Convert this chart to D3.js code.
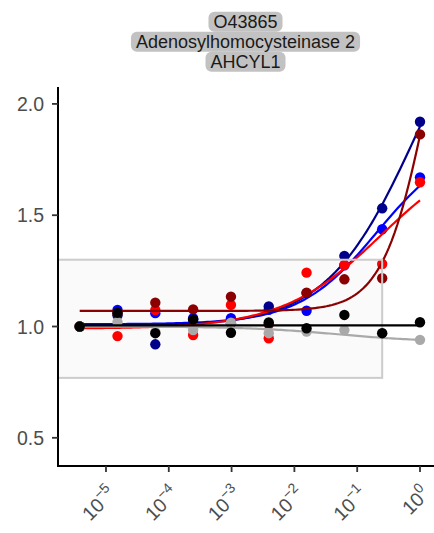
<!DOCTYPE html>
<html><head><meta charset="utf-8">
<script src="https://cdn.jsdelivr.net/npm/d3@7/dist/d3.min.js"></script>
<style>body{margin:0;background:#fff;} text{font-family:"Liberation Sans",Arial,sans-serif;}</style>
</head><body><svg id="c" width="434" height="533"></svg>
<script>
const titleLines = ["O43865", "Adenosylhomocysteinase 2", "AHCYL1"];
const doses = [3.8147e-6, 1.5259e-5, 6.1035e-5, 2.4414e-4, 9.7656e-4, 3.9063e-3, 0.015625, 0.0625, 0.25, 1];
const seriesNames = ["blue", "navy", "red", "darkred", "gray", "black"];
const seriesColors = ["#0000FF", "#00008B", "#FF0000", "#8B0000", "#A9A9A9", "#000000"];
const blueVals    = [1.00, 1.074, 1.06, 1.037, 1.037, 1.075, 1.071, 1.275, 1.437, 1.67];
const navyVals    = [1.00, 1.05, 0.92, 1.03, 1.015, 1.09, 1.15, 1.317, 1.531, 1.92];
const redVals     = [1.00, 0.957, 1.074, 0.962, 1.097, 0.947, 1.242, 1.276, 1.281, 1.648];
const darkredVals = [1.00, 1.06, 1.107, 1.077, 1.134, 1.01, 1.152, 1.212, 1.217, 1.863];
const grayVals    = [1.00, 1.02, 0.975, 0.984, 1.017, 0.97, 0.977, 0.984, 0.97, 0.94];
const blackVals   = [1.00, 1.062, 0.97, 1.032, 0.972, 1.018, 0.992, 1.052, 0.97, 1.019];
// fitted log-logistic curve parameters: bottom, top, ec50, hill
const fitBottom = [1.01, 1.00, 0.99, 1.07, 1.00, 1.005];
const fitTop    = [1.84, 2.77, 1.83, 3.07, 0.93, 1.005];
const fitEC50   = [0.208, 0.95, 0.24, 1.43, 0.05, 1];
const fitHill   = [0.7, 0.6, 0.55, 1.2, 0.6, 1];
const yTicks = [0.5, 1.0, 1.5, 2.0];
const xTickExp = [-5, -4, -3, -2, -1, 0];
const boxYLow = 1/1.3, boxYHigh = 1.3, boxXHigh = 0.25;

const allVals = [blueVals, navyVals, redVals, darkredVals, grayVals, blackVals];
const svg = d3.select("#c");
const L = 58, R = 433, T = 87, B = 466;
const x = d3.scaleLog().domain([Math.pow(10, -5.764), Math.pow(10, 0.207)]).range([L, R]);
const y = d3.scaleLinear().domain([0.3733, 2.076]).range([B, T]);

// title strips
const tg = svg.append("g");
titleLines.forEach((t, i) => {
  const cy = 21.7 + i * 20;
  const txt = tg.append("text").attr("x", (L + R) / 2).attr("y", cy).attr("dy", "0.35em")
    .attr("text-anchor", "middle").attr("font-size", 18).attr("fill", "#1a1a1a").text(t);
  const w = txt.node().getComputedTextLength();
  tg.insert("rect", "text").attr("x", (L + R) / 2 - w / 2 - 5).attr("y", cy - 10).attr("width", w + 10)
    .attr("height", 20).attr("rx", 6).attr("fill", "#c2c2c2");
});

// box
svg.append("rect").attr("x", L).attr("y", y(boxYHigh)).attr("width", x(boxXHigh) - L)
  .attr("height", y(boxYLow) - y(boxYHigh)).attr("fill", "#fafafa").attr("stroke", "none");

const line = d3.line().x(d => x(d[0])).y(d => y(d[1]));
const curve = i => {
  const pts = [];
  const lo = Math.log10(doses[0]), hi = Math.log10(doses[doses.length - 1]);
  for (let k = 0; k <= 120; k++) {
    const d = Math.pow(10, lo + (hi - lo) * k / 120);
    const v = fitBottom[i] + (fitTop[i] - fitBottom[i]) / (1 + Math.pow(fitEC50[i] / d, fitHill[i]));
    pts.push([d, v]);
  }
  return pts;
};
function drawSeries(i) {
  svg.append("path").attr("d", line(curve(i))).attr("fill", "none").attr("stroke", seriesColors[i]).attr("stroke-width", 2.2);
  svg.append("g").selectAll("circle").data(doses.map((d, j) => [d, allVals[i][j]])).join("circle")
    .attr("cx", d => x(d[0])).attr("cy", d => y(d[1])).attr("r", 5.2).attr("fill", seriesColors[i]);
}
[0, 1, 2, 3].forEach(drawSeries);
svg.append("rect").attr("x", L).attr("y", y(boxYHigh)).attr("width", x(boxXHigh) - L)
  .attr("height", y(boxYLow) - y(boxYHigh)).attr("fill", "none").attr("stroke", "#cccccc").attr("stroke-width", 2);
[4, 5].forEach(drawSeries);

// axes
const ax = svg.append("g").attr("stroke-linecap", "butt");
ax.append("line").attr("x1", L).attr("x2", L).attr("y1", T).attr("y2", B + 1).attr("stroke", "#000").attr("stroke-width", 2);
ax.append("line").attr("x1", L - 1).attr("x2", R + 1).attr("y1", B).attr("y2", B).attr("stroke", "#000").attr("stroke-width", 2);
yTicks.forEach(v => {
  ax.append("line").attr("x1", L - 6).attr("x2", L).attr("y1", y(v)).attr("y2", y(v)).attr("stroke", "#333").attr("stroke-width", 1.8);
  ax.append("text").attr("x", L - 14).attr("y", y(v)).attr("dy", "0.36em").attr("text-anchor", "end")
    .attr("font-size", 19.5).attr("fill", "#4d4d4d").text(v.toFixed(1));
});
xTickExp.forEach(e => {
  const px = x(Math.pow(10, e));
  ax.append("line").attr("x1", px).attr("x2", px).attr("y1", B).attr("y2", B + 6).attr("stroke", "#333").attr("stroke-width", 1.8);
  const t = ax.append("text").attr("transform", `translate(${px + 11},${B + 29}) rotate(-45)`)
    .attr("text-anchor", "end").attr("fill", "#4d4d4d").attr("font-size", 19.5);
  t.append("tspan").text("10");
  t.append("tspan").attr("dy", -9).attr("font-size", 14).text(e === 0 ? "0" : "\u2212" + Math.abs(e));
});
</script></body></html>
